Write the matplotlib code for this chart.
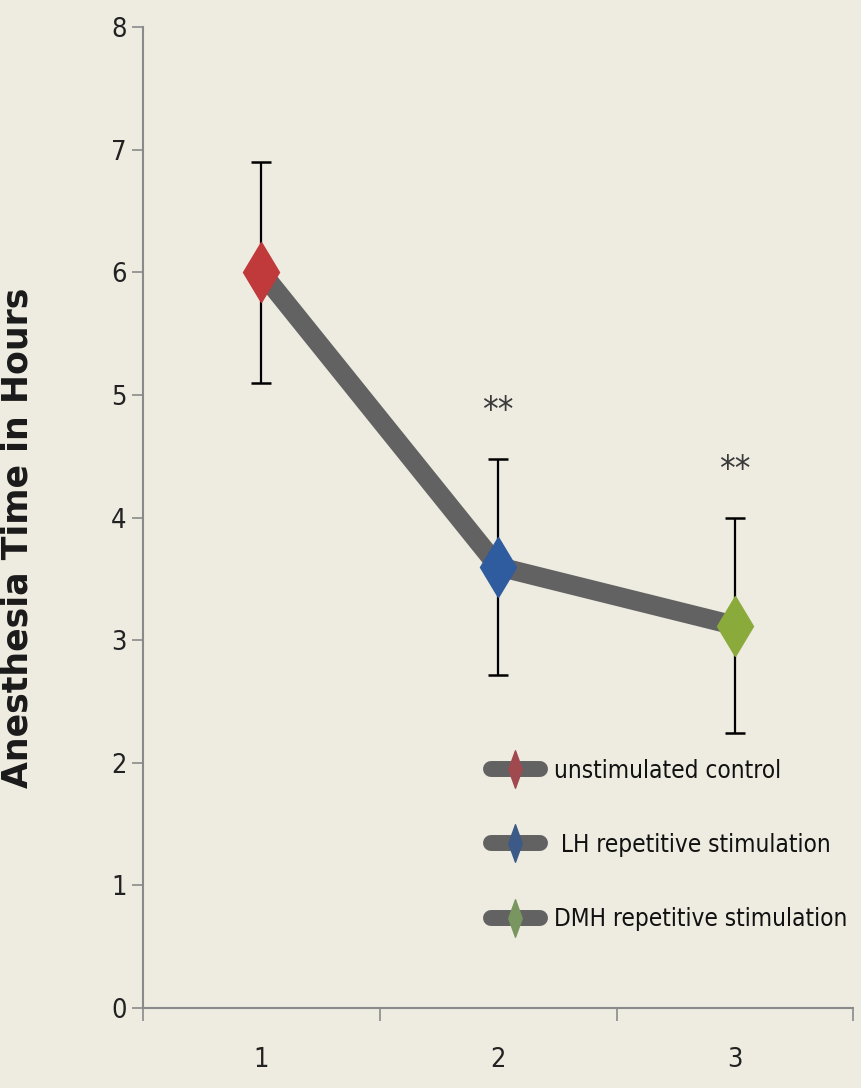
import numpy as np
import matplotlib
matplotlib.use('Agg')
import matplotlib.pyplot as plt
from matplotlib.lines import Line2D
from matplotlib.font_manager import FontProperties

groups = [1, 2, 3]
group_labels = ["unstimulated control", " LH repetitive stimulation", "DMH repetitive stimulation"]
mean_hours = [6.0, 3.6, 3.12]
err_hours = [0.9, 0.88, 0.88]
signif = ["", "**", "**"]

bg = '#eeebe0'
line_gray = '#626262'
marker_colors = ['#c0393b', '#2e5c9e', '#8aab3c']
legend_colors = ['#a04a50', '#3c5a88', '#7a9660']

narrow = dict(family='DejaVu Sans', stretch='condensed')

fig = plt.figure(figsize=(8.62, 10.88), dpi=100, facecolor=bg)
ax = fig.add_axes([0.166, 0.0735, 0.824, 0.9015], facecolor=bg)

ax.plot(groups, mean_hours, color=line_gray, lw=14, solid_capstyle='butt', zorder=1)
ax.errorbar(groups, mean_hours, yerr=err_hours, fmt='none', ecolor='black',
            elinewidth=1.6, capsize=7, capthick=1.8, zorder=2)
for x, y, c in zip(groups, mean_hours, marker_colors):
    ax.plot(x, y, marker='d', ms=31, color=c, mec=c, ls='none', zorder=3)

# significance stars above the upper error bars
for x, y, e, s in zip(groups, mean_hours, err_hours, signif):
    if s:
        ax.text(x, y + e + 0.25, s, ha='center', va='bottom', fontsize=25,
                color='#3a3a3a', **narrow)

ax.set_xlim(0.5, 3.5)
ax.set_ylim(0, 8)
ax.set_yticks(range(0, 9))
ax.set_xticks(groups)
ax.set_xticks([0.5, 1.5, 2.5, 3.5], minor=True)
ax.tick_params(axis='x', which='major', length=0, pad=28)
ax.tick_params(axis='x', which='minor', length=9, color='#8a8a8a', width=1.2)
ax.tick_params(axis='y', length=8, color='#8a8a8a', width=1.2, pad=4)
for lab in ax.get_xticklabels() + ax.get_yticklabels():
    lab.set_fontproperties(FontProperties(size=19.5, **narrow))
    lab.set_color('#222222')

for side in ['top', 'right']:
    ax.spines[side].set_visible(False)
for side in ['left', 'bottom']:
    ax.spines[side].set_color('#8a8a8a')
    ax.spines[side].set_linewidth(1.5)

ax.set_ylabel('Anesthesia Time in Hours', fontsize=25, fontweight='bold',
              color='#1a1a1a')
ax.yaxis.set_label_coords(-0.153, 0.479)

thin_diamond = [(-0.36, 0), (0, 1), (0.36, 0), (0, -1), (-0.36, 0)]
handles = [Line2D([0], [0], color=line_gray, lw=11.5, solid_capstyle='round',
                  marker=thin_diamond, ms=27, mfc=c, mec=c) for c in legend_colors]
leg = ax.legend(handles, group_labels, loc='upper left', bbox_to_anchor=(0.49, 0.254),
                frameon=False, borderpad=0, borderaxespad=0,
                handlelength=2.0, labelspacing=2.06, handletextpad=0.6,
                prop=FontProperties(size=17.5, **narrow))
for t in leg.get_texts():
    t.set_color('#111111')

fig.savefig('out.png', dpi=100, facecolor=bg)
